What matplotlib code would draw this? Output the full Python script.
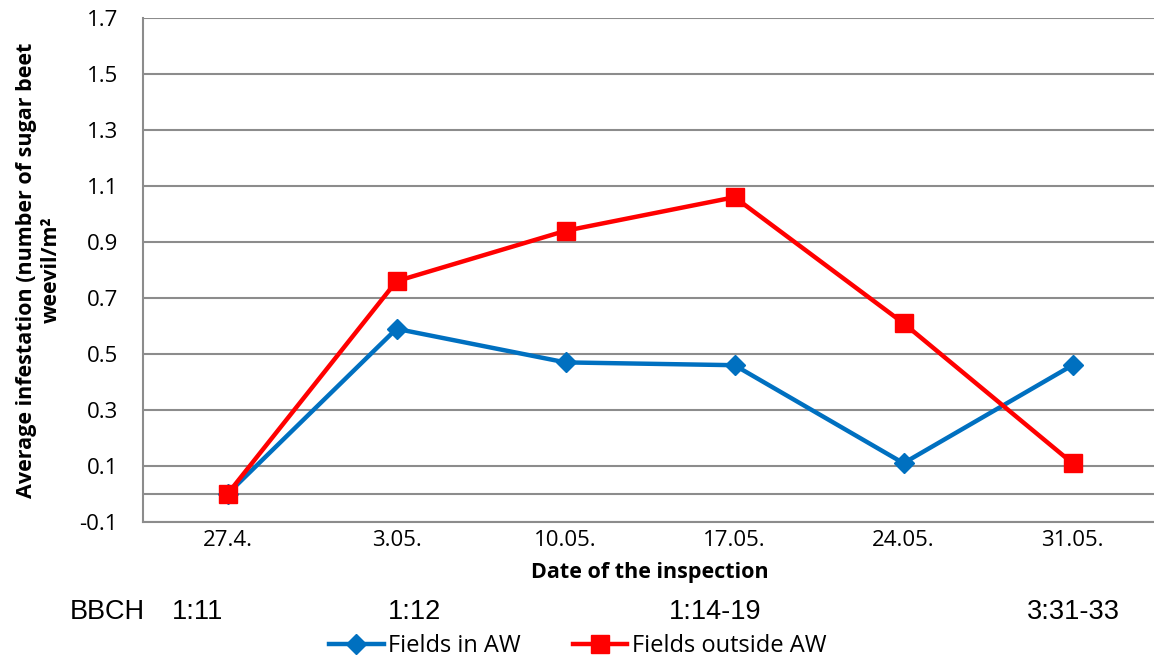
import matplotlib.pyplot as plt

# Inspection dates and growth stages
dates = ['27.4.', '3.05.', '10.05.', '17.05.', '24.05.', '31.05.']
bbch_labels = ['1:11', '1:12', '1:14-19', '3:31-33']

# Average infestation (weevils per m2)
fields_in_aw = [0.0, 0.59, 0.47, 0.46, 0.11, 0.46]
fields_outside_aw = [0.0, 0.76, 0.94, 1.06, 0.61, 0.11]

yticks = [-0.1, 0.1, 0.3, 0.5, 0.7, 0.9, 1.1, 1.3, 1.5, 1.7]

calibri = ['Open Sans', 'DejaVu Sans']
grid_col = '#8c8c8c'

fig = plt.figure(figsize=(11.54, 6.61), dpi=100)
ax = fig.add_axes([143 / 1154, 1 - 522 / 661, 1014 / 1154, 504 / 661])

x = list(range(len(dates)))
ax.plot(x, fields_in_aw, '-D', color='#0070C0', lw=3.2, ms=10, label='Fields in AW', zorder=3)
ax.plot(x, fields_outside_aw, '-s', color='#FF0000', lw=3.2, ms=13, label='Fields outside AW', zorder=4)

ax.set_xlim(-0.5, len(dates) - 0.5)
ax.set_ylim(-0.1, 1.7)
ax.set_yticks(yticks)
ax.set_yticklabels([f'{v:.1f}' for v in yticks], fontfamily=calibri, fontsize=16)
ax.set_xticks(x)
ax.set_xticklabels(dates, fontfamily=calibri, fontsize=16)
ax.tick_params(length=0, pad=6)
ax.tick_params(axis='y', pad=18)

ax.grid(axis='y', color=grid_col, lw=1.5)
ax.axhline(0, color=grid_col, lw=1.5, zorder=1)
for s in ['top', 'right']:
    ax.spines[s].set_visible(False)
for s in ['left', 'bottom']:
    ax.spines[s].set_color(grid_col)
    ax.spines[s].set_linewidth(1.5)

ax.set_ylabel('Average infestation (number of sugar beet\nweevil/m²', fontfamily=calibri,
              fontsize=15.5, fontweight='bold', linespacing=1.25)
ax.yaxis.set_label_coords(-81 / 1014, 0.5)
ax.set_xlabel('Date of the inspection', fontfamily=calibri, fontsize=15.5, fontweight='bold', labelpad=8)

# BBCH growth stage row
fig.text(107 / 1154, 1 - 612 / 661, 'BBCH', ha='center', va='center', fontfamily='Liberation Sans', fontsize=19.5)
bbch_x = [198, 415, 715, 1073]
for bx, lab in zip(bbch_x, bbch_labels):
    fig.text(bx / 1154, 1 - 612 / 661, lab, ha='center', va='center', fontfamily='Liberation Sans', fontsize=19.5)

fig.legend(loc='center', bbox_to_anchor=(578 / 1154, 1 - 646 / 661), ncol=2, frameon=False,
           prop={'family': calibri, 'size': 17}, handlelength=2.3, handletextpad=0.2,
           columnspacing=2.2, borderaxespad=0)

fig.savefig('out.png', dpi=100)
